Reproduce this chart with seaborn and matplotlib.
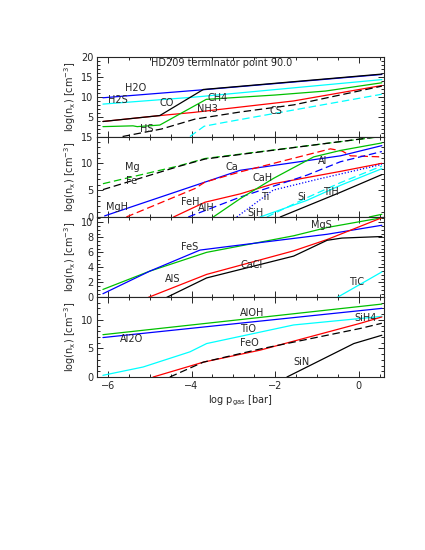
import numpy as np
import matplotlib
matplotlib.use("Agg")
import matplotlib.pyplot as plt
import seaborn as sns
from matplotlib.ticker import MultipleLocator

sns.set_style("ticks")
plt.rcParams['font.family'] = ['DejaVu Sans']
plt.rcParams['font.size'] = 7

# ---------------- data ----------------
xlim = (-6.25, 0.6)
title = "HD209 terminator point 90.0"

# panel 1
h2o_x = [-6.12, -3.76, 0.55];            h2o_y = [9.8, 11.8, 15.7]
h2s_x = [-6.12, -3.9, 0.55];             h2s_y = [8.2, 10.0, 14.4]
nh3_x = [-6.12, -4.76, -3.95, -1.56, 0.55]; nh3_y = [3.8, 5.3, 6.1, 9.0, 12.9]
co_x = [-6.12, -4.76, -3.72, 0.55];      co_y = [3.8, 5.3, 11.9, 15.8]
ch4_x = [-6.12, -5.4, -5.3, -4.76, -3.65, -2.0, -0.8, 0.55]
ch4_y = [2.5, 2.7, 2.5, 2.9, 9.4, 10.5, 11.5, 13.6]
hs_x = [-5.65, -4.72, -3.92, -2.84, -1.56, 0.55]; hs_y = [0.0, 1.9, 4.4, 6.2, 8.0, 12.75]
cs_x = [-4.04, -3.7, -3.2, 0.55];        cs_y = [0.0, 2.6, 3.6, 10.7]

# panel 2
mg_x = [-6.12, -4.32, -3.68, 0.55];      mg_y = [6.2, 9.5, 10.9, 15.0]
fe_x = [-6.12, -4.32, -3.68, 0.55];      fe_y = [5.1, 9.4, 10.8, 15.05]
mgh_x = [-6.08, -3.68, -2.84, -0.44, 0.55]; mgh_y = [0.2, 6.5, 8.7, 11.4, 13.3]
ca_x = [-5.56, -3.92, -3.68, -2.84, -0.68, -0.4, -0.2, 0.55]
ca_y = [0.0, 5.3, 6.5, 8.4, 12.7, 12.3, 11.4, 11.2]
feh_x = [-4.43, -3.68, -2.84, -2.04, -0.44, 0.55]; feh_y = [0.0, 2.75, 4.3, 6.2, 8.5, 10.0]
al_x = [-4.08, -2.84, -1.24, -0.44, 0.55]; al_y = [0.0, 3.7, 7.8, 10.3, 12.2]
alh_x = [-3.48, -2.84, -2.04, -1.08, -0.44, 0.55]; alh_y = [0.0, 3.4, 7.2, 11.2, 12.4, 13.8]
ti_x = [-2.92, -2.05, -1.0, 0.55];       ti_y = [0.0, 5.0, 7.0, 9.8]
si_x = [-2.2, -1.24, -0.44, 0.55];       si_y = [0.0, 3.6, 6.4, 9.5]
sih_x = [-2.36, -1.24, -0.44, 0.55];     sih_y = [0.0, 3.1, 5.9, 9.0]
tih_x = [-1.88, -0.44, 0.55];            tih_y = [0.0, 4.6, 7.9]
extra_x = [0.25, 0.55];                  extra_y = [0.0, 0.5]

# panel 3
mgs_x = [-6.12, -5.0, -3.64, -1.56, -0.76, 0.55]; mgs_y = [1.07, 3.5, 6.0, 8.2, 9.3, 10.6]
fes_x = [-6.12, -5.0, -3.8, -3.16, -0.76, 0.55];  fes_y = [0.5, 3.5, 6.3, 6.75, 8.4, 9.6]
als_x = [-5.04, -3.64, -1.56, -0.76, 0.55];       als_y = [0.0, 3.07, 6.2, 7.7, 10.6]
cacl_x = [-4.6, -3.64, -1.56, -0.76, -0.4, 0.55]; cacl_y = [0.0, 2.6, 5.5, 7.6, 7.9, 8.1]
tic_x = [-0.52, 0.55];                            tic_y = [0.0, 3.4]

# panel 4
aloh_x = [-6.12, 0.55];                  aloh_y = [7.4, 12.75]
al2o_x = [-6.12, 0.55];                  al2o_y = [6.9, 12.0]
tio_x = [-6.12, -5.16, -4.04, -3.64, -1.56, 0.55]; tio_y = [0.3, 1.75, 4.4, 5.85, 9.1, 10.6]
sih4_x = [-4.92, -3.72, -2.36, 0.04, 0.55]; sih4_y = [0.0, 2.6, 4.7, 9.4, 10.5]
feo_x = [-4.52, -3.72, -2.36, 0.04, 0.55];  feo_y = [0.0, 2.6, 4.9, 8.5, 9.4]
sin_x = [-1.72, -0.12, 0.55];             sin_y = [0.0, 5.85, 7.3]

# ---------------- style ----------------
BLACK, BLUE, CYAN, GREEN, RED = "#000000", "#0000ff", "#00ffff", "#00c000", "#ff0000"
SOLID, DASH, DOT = "-", (0, (6, 3)), (0, (1, 1.5))
LW = 0.9

fig = plt.figure(figsize=(4.25, 5.5), dpi=100)
left, width = 0.2294, 0.674
bounds = [0.8955, 0.7518, 0.6055, 0.4591, 0.3145]
axes = []
for i in range(4):
    ax = fig.add_axes([left, bounds[i + 1], width, bounds[i] - bounds[i + 1]])
    axes.append(ax)

def line(ax, x, y, color, ls=SOLID):
    sns.lineplot(x=x, y=y, ax=ax, color=color, linestyle=ls, linewidth=LW,
                 sort=False, estimator=None, legend=False)

a1, a2, a3, a4 = axes
# panel 1
line(a1, h2o_x, h2o_y, BLUE)
line(a1, h2s_x, h2s_y, CYAN)
line(a1, nh3_x, nh3_y, RED)
line(a1, ch4_x, ch4_y, GREEN)
line(a1, co_x, co_y, BLACK)
line(a1, hs_x, hs_y, BLACK, DASH)
line(a1, cs_x, cs_y, CYAN, DASH)
# panel 2
line(a2, mg_x, mg_y, GREEN, DASH)
line(a2, fe_x, fe_y, BLACK, DASH)
line(a2, mgh_x, mgh_y, BLUE)
line(a2, ca_x, ca_y, RED, DASH)
line(a2, feh_x, feh_y, RED)
line(a2, al_x, al_y, BLUE, DASH)
line(a2, alh_x, alh_y, GREEN)
line(a2, ti_x, ti_y, BLUE, DOT)
line(a2, si_x, si_y, CYAN, DASH)
line(a2, sih_x, sih_y, CYAN)
line(a2, tih_x, tih_y, BLACK)
line(a2, extra_x, extra_y, GREEN)
# panel 3
line(a3, mgs_x, mgs_y, GREEN)
line(a3, fes_x, fes_y, BLUE)
line(a3, als_x, als_y, RED)
line(a3, cacl_x, cacl_y, BLACK)
line(a3, tic_x, tic_y, CYAN)
# panel 4
line(a4, aloh_x, aloh_y, GREEN)
line(a4, al2o_x, al2o_y, BLUE)
line(a4, tio_x, tio_y, CYAN)
line(a4, sih4_x, sih4_y, RED)
line(a4, feo_x, feo_y, BLACK, DASH)
line(a4, sin_x, sin_y, BLACK)

ylims = [(0, 20), (0, 15), (0, 10.7), (0, 13.9)]
ymaj = [5, 5, 2, 5]
ymin = [1, 1, 0.5, 1]
for ax, yl, mj, mn in zip(axes, ylims, ymaj, ymin):
    ax.set_xlim(*xlim)
    ax.set_ylim(*yl)
    ax.xaxis.set_major_locator(MultipleLocator(2))
    ax.xaxis.set_minor_locator(MultipleLocator(0.5))
    ax.yaxis.set_major_locator(MultipleLocator(mj))
    ax.yaxis.set_minor_locator(MultipleLocator(mn))
    ax.tick_params(which='both', direction='in', top=True, right=True,
                   labelsize=7, width=0.7, pad=3)
    ax.tick_params(which='major', length=4)
    ax.tick_params(which='minor', length=2)
    for s in ax.spines.values():
        s.set_linewidth(0.8)
    ax.set_ylabel(r"log(n$_\mathrm{x}$) [cm$^{-3}$]", fontsize=7)
    ax.yaxis.set_label_coords(-0.068, 0.5)
    if ax is not a4:
        ax.tick_params(labelbottom=False)
    ax.set_xlabel("")

a1.set_yticks([5, 10, 15, 20])
a4.set_xlabel(r"log p$_\mathrm{gas}$ [bar]", fontsize=7, labelpad=2)

def lab(ax, px, py, s):
    # px, py given in figure pixel coordinates of a 425x550 image
    fig.text(px / 425, 1 - py / 550, s, ha='center', va='center', fontsize=7)

lab(a1, 222, 63, title)
lab(a1, 136, 88, "H2O"); lab(a1, 118, 100, "H2S"); lab(a1, 167, 103, "CO")
lab(a1, 218, 98, "CH4"); lab(a1, 207, 109, "NH3"); lab(a1, 276, 111, "CS")
lab(a1, 147, 129, "HS")
lab(a2, 132, 167, "Mg"); lab(a2, 132, 181, "Fe"); lab(a2, 117, 207, "MgH")
lab(a2, 190, 202, "FeH"); lab(a2, 206, 208, "AlH"); lab(a2, 232, 167, "Ca")
lab(a2, 263, 178, "CaH"); lab(a2, 265, 197, "Ti"); lab(a2, 302, 197, "Si")
lab(a2, 331, 192, "TiH"); lab(a2, 256, 213, "SiH"); lab(a2, 323, 161, "Al")
lab(a3, 190, 247, "FeS"); lab(a3, 321, 225, "MgS"); lab(a3, 173, 279, "AlS")
lab(a3, 252, 265, "CaCl"); lab(a3, 357, 282, "TiC")
lab(a4, 252, 313, "AlOH"); lab(a4, 132, 339, "Al2O"); lab(a4, 248, 329, "TiO")
lab(a4, 249, 343, "FeO"); lab(a4, 301, 362, "SiN"); lab(a4, 366, 318, "SiH4")

fig.savefig("out.png", dpi=100)
